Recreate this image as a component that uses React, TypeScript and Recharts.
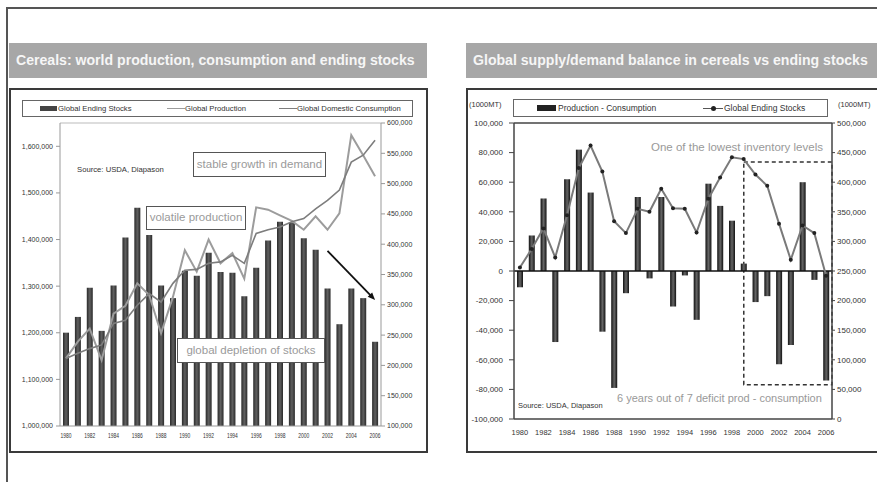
import {
  ComposedChart,
  Bar,
  Line,
  XAxis,
  YAxis,
  ReferenceLine,
  ReferenceArea,
} from 'recharts'

const years = [
  '1980', '1981', '1982', '1983', '1984', '1985', '1986', '1987', '1988', '1989',
  '1990', '1991', '1992', '1993', '1994', '1995', '1996', '1997', '1998', '1999',
  '2000', '2001', '2002', '2003', '2004', '2005', '2006',
]

// left chart (1000 MT)
const endingStocks = [
  254000, 280000, 328000, 257000, 332000, 411000, 460000, 415000, 332000, 311000,
  356000, 348000, 386000, 354000, 353000, 314000, 361000, 406000, 437000, 436000,
  410000, 391000, 327000, 268000, 327000, 311000, 239000,
]
const production = [
  1145000, 1181000, 1209000, 1141000, 1241000, 1258000, 1306000, 1281000, 1199000, 1277000,
  1377000, 1331000, 1400000, 1349000, 1371000, 1316000, 1469000, 1464000, 1452000, 1440000,
  1421000, 1450000, 1421000, 1456000, 1624000, 1581000, 1536000,
]
const consumption = [
  1145000, 1156000, 1166000, 1174000, 1220000, 1227000, 1259000, 1284000, 1266000, 1306000,
  1334000, 1336000, 1349000, 1352000, 1366000, 1349000, 1413000, 1421000, 1427000, 1438000,
  1445000, 1466000, 1484000, 1506000, 1566000, 1581000, 1613000,
]
const leftTicks = [1000000, 1100000, 1200000, 1300000, 1400000, 1500000, 1600000]
const rightTicks = [100000, 150000, 200000, 250000, 300000, 350000, 400000, 450000, 500000, 550000, 600000]

// right chart (1000 MT)
const balance = [
  -11000, 24000, 49000, -48000, 62000, 82000, 53000, -41000, -79000, -15000,
  50000, -5000, 50000, -24000, -3000, -33000, 59000, 44000, 34000, 5000,
  -21000, -17000, -63000, -50000, 60000, -6000, -74000,
]
const stocksLine = [
  256000, 287000, 322000, 273000, 344000, 424000, 462000, 418000, 334000, 314000,
  355000, 350000, 389000, 356000, 355000, 315000, 372000, 408000, 442000, 439000,
  413000, 394000, 330000, 269000, 327000, 314000, 242000,
]
const balanceTicks = [-100000, -80000, -60000, -40000, -20000, 0, 20000, 40000, 60000, 80000, 100000]
const stockTicks = [0, 50000, 100000, 150000, 200000, 250000, 300000, 350000, 400000, 450000, 500000]

const leftData = years.map((year, i) => ({
  year,
  stocks: endingStocks[i],
  production: production[i],
  consumption: consumption[i],
}))
const rightData = years.map((year, i) => ({ year, balance: balance[i], stocks: stocksLine[i] }))

const fmt = (v: number) => v.toLocaleString('en-US')

const FONT = "'Liberation Sans', Arial, sans-serif"

function NarrowYearTick(props: any) {
  const { x, y, payload } = props
  return (
    <text
      x={x}
      y={y + 4}
      textAnchor="middle"
      fontSize={6.5}
      fill="#333"
      textLength={11}
      lengthAdjust="spacingAndGlyphs"
    >
      {payload.value}
    </text>
  )
}

function ArrowShape(props: any) {
  const { x1, y1, x2, y2 } = props
  const ang = Math.atan2(y2 - y1, x2 - x1)
  const len = 8
  const a = [x2 - len * Math.cos(ang - 0.4), y2 - len * Math.sin(ang - 0.4)]
  const b = [x2 - len * Math.cos(ang + 0.4), y2 - len * Math.sin(ang + 0.4)]
  return (
    <g>
      <line x1={x1} y1={y1} x2={x2 - 4 * Math.cos(ang)} y2={y2 - 4 * Math.sin(ang)} stroke="#111" strokeWidth={1.8} />
      <polygon points={`${x2},${y2} ${a[0]},${a[1]} ${b[0]},${b[1]}`} fill="#111" />
    </g>
  )
}

function DashedBox(props: any) {
  const { x, y, width, height } = props
  // start the box at the middle of the 1999 band
  const shift = 6
  return (
    <rect
      x={x + shift}
      y={y}
      width={width - shift}
      height={height}
      fill="none"
      stroke="#333"
      strokeWidth={1.5}
      strokeDasharray="4 3"
    />
  )
}

const abs = (left: number, top: number, extra: React.CSSProperties = {}): React.CSSProperties => ({
  position: 'absolute',
  left,
  top,
  ...extra,
})

const titleStyle: React.CSSProperties = {
  background: '#a7a7a7',
  color: '#f6f6f6',
  fontWeight: 'bold',
  fontSize: 14.1,
  lineHeight: '35px',
  height: 35,
  paddingLeft: 7,
  boxSizing: 'border-box',
  whiteSpace: 'nowrap',
  overflow: 'hidden',
}

const noteBox: React.CSSProperties = {
  border: '1.5px solid #555',
  background: '#fff',
  color: '#9a9a9a',
  fontSize: 11.5,
  boxSizing: 'border-box',
  textAlign: 'center',
  whiteSpace: 'nowrap',
}

const small = (size: number, color = '#333'): React.CSSProperties => ({
  fontSize: size,
  color,
  whiteSpace: 'nowrap',
})

export default function App() {
  return (
    <div
      style={{
        position: 'absolute',
        left: 0,
        top: 0,
        width: 877,
        height: 482,
        overflow: 'hidden',
        background: '#fff',
        fontFamily: FONT,
      }}
    >
      {/* outer frame */}
      <div style={abs(6, 7, { width: 900, height: 500, borderTop: '2px solid #555', borderLeft: '2px solid #555' })} />

      {/* titles */}
      <div style={abs(9, 43, { ...titleStyle, width: 418 })}>
        Cereals: world production, consumption and ending stocks
      </div>
      <div style={abs(466, 43, { ...titleStyle, width: 411 })}>
        Global supply/demand balance in cereals vs ending stocks
      </div>

      {/* left chart */}
      <div style={abs(9, 88, { width: 419, height: 365, border: '2px solid #3a3a3a', boxSizing: 'border-box' })}>
        <ComposedChart width={415} height={361} data={leftData} margin={{ top: 33, right: 0, bottom: 0, left: 0 }}>
          <defs>
            <linearGradient id="stockBar" x1="0" y1="0" x2="1" y2="0">
              <stop offset="0%" stopColor="#2a2a2a" />
              <stop offset="50%" stopColor="#606060" />
              <stop offset="100%" stopColor="#2a2a2a" />
            </linearGradient>
          </defs>
          <XAxis
            dataKey="year"
            interval={1}
            height={25}
            tickLine={false}
            axisLine={{ stroke: '#999' }}
            tick={<NarrowYearTick />}
          />
          <YAxis
            yAxisId="left"
            domain={[1000000, 1650000]}
            ticks={leftTicks}
            width={49}
            tickSize={4}
            tickMargin={3}
            tickFormatter={fmt}
            tick={{ fontSize: 7, fill: '#333' }}
            axisLine={{ stroke: '#999' }}
            tickLine={{ stroke: '#999' }}
          />
          <YAxis
            yAxisId="right"
            orientation="right"
            domain={[100000, 600000]}
            ticks={rightTicks}
            width={45}
            tickSize={4}
            tickMargin={2}
            tickFormatter={fmt}
            tick={{ fontSize: 7, fill: '#333' }}
            axisLine={{ stroke: '#999' }}
            tickLine={{ stroke: '#999' }}
          />
          <ReferenceLine yAxisId="left" y={1650000} stroke="#bbb" />
          <Bar yAxisId="right" dataKey="stocks" barSize={6} fill="url(#stockBar)" isAnimationActive={false} />
          <Line
            yAxisId="left"
            dataKey="production"
            stroke="#9c9c9c"
            strokeWidth={2}
            dot={false}
            isAnimationActive={false}
          />
          <Line
            yAxisId="left"
            dataKey="consumption"
            stroke="#7d7d7d"
            strokeWidth={1.6}
            dot={false}
            isAnimationActive={false}
          />
          <ReferenceLine
            yAxisId="right"
            segment={[
              { x: '2002', y: 389000 },
              { x: '2006', y: 308000 },
            ]}
            shape={ArrowShape}
          />
        </ComposedChart>
      </div>

      {/* left legend */}
      <div style={abs(22, 100, { width: 391, height: 17, border: '1px solid #666', boxSizing: 'border-box', background: '#fff' })} />
      <div style={abs(40, 105.5, { width: 17, height: 5, background: '#444' })} />
      <div style={abs(58, 101, { ...small(7.7), lineHeight: '15px' })}>Global Ending Stocks</div>
      <div style={abs(167, 107.5, { width: 18, height: 1.5, background: '#9c9c9c' })} />
      <div style={abs(185, 101, { ...small(7.7), lineHeight: '15px' })}>Global Production</div>
      <div style={abs(279, 107.5, { width: 18, height: 1.5, background: '#7d7d7d' })} />
      <div style={abs(297, 101, { ...small(7.7), lineHeight: '15px' })}>Global Domestic Consumption</div>

      {/* left notes */}
      <div style={abs(77, 164, { ...small(7.7), lineHeight: '12px' })}>Source: USDA, Diapason</div>
      <div style={abs(193, 152, { ...noteBox, width: 133, height: 25, lineHeight: '22px' })}>stable growth in demand</div>
      <div style={abs(146, 206, { ...noteBox, width: 100, height: 24, lineHeight: '21px' })}>volatile production</div>
      <div style={abs(177, 338, { ...noteBox, width: 148, height: 25, lineHeight: '22px' })}>global depletion of stocks</div>

      {/* right chart */}
      <div style={abs(466, 88, { width: 420, height: 365, border: '2px solid #3a3a3a', boxSizing: 'border-box' })}>
        <ComposedChart width={409} height={361} data={rightData} margin={{ top: 33, right: 0, bottom: 0, left: 0 }}>
          <defs>
            <linearGradient id="balBar" x1="0" y1="0" x2="1" y2="0">
              <stop offset="0%" stopColor="#111" />
              <stop offset="50%" stopColor="#666" />
              <stop offset="100%" stopColor="#111" />
            </linearGradient>
          </defs>
          <XAxis
            dataKey="year"
            interval={1}
            height={32}
            tickLine={false}
            tickSize={6}
            tickMargin={5}
            axisLine={{ stroke: '#444', strokeWidth: 1.5 }}
            tick={{ fontSize: 7.5, fill: '#333' }}
          />
          <YAxis
            yAxisId="left"
            domain={[-100000, 100000]}
            ticks={balanceTicks}
            width={46}
            tickSize={5}
            tickMargin={6}
            tickFormatter={fmt}
            tick={{ fontSize: 8, fill: '#333' }}
            axisLine={{ stroke: '#444', strokeWidth: 1.5 }}
            tickLine={{ stroke: '#444' }}
          />
          <YAxis
            yAxisId="right"
            orientation="right"
            domain={[0, 500000]}
            ticks={stockTicks}
            width={45}
            tickSize={3}
            tickMargin={2}
            tickFormatter={fmt}
            tick={{ fontSize: 8, fill: '#333' }}
            axisLine={{ stroke: '#444', strokeWidth: 1.5 }}
            tickLine={{ stroke: '#444' }}
          />
          <ReferenceLine yAxisId="left" y={100000} stroke="#444" strokeWidth={1.5} />
          <Bar yAxisId="left" dataKey="balance" barSize={6} fill="url(#balBar)" isAnimationActive={false} />
          <ReferenceLine yAxisId="left" y={0} stroke="#111" strokeWidth={1.5} />
          <Line
            yAxisId="right"
            dataKey="stocks"
            stroke="#7a7a7a"
            strokeWidth={2}
            dot={{ r: 2, fill: '#222', stroke: '#222', strokeWidth: 0 }}
            isAnimationActive={false}
          />
          <ReferenceArea yAxisId="right" x1="1999" y1={58000} y2={434000} shape={DashedBox} />
        </ComposedChart>
      </div>

      {/* right legend */}
      <div style={abs(513, 99, { width: 315, height: 18, border: '1px solid #666', boxSizing: 'border-box', background: '#fff' })} />
      <div style={abs(537, 105, { width: 19, height: 6, background: '#222' })} />
      <div style={abs(558, 101, { ...small(8.5), lineHeight: '14px' })}>Production - Consumption</div>
      <div style={abs(703, 107.5, { width: 20, height: 1.5, background: '#555' })} />
      <div style={abs(710.5, 105.5, { width: 5, height: 5, borderRadius: 3, background: '#222' })} />
      <div style={abs(724, 101, { ...small(8.5), lineHeight: '14px' })}>Global Ending Stocks</div>

      {/* right notes */}
      <div style={abs(469, 99, { ...small(7.5), lineHeight: '12px' })}>(1000MT)</div>
      <div style={abs(838, 99, { ...small(7.5), lineHeight: '12px' })}>(1000MT)</div>
      <div style={abs(651, 140, { ...small(11.5, '#999'), lineHeight: '14px' })}>One of the lowest inventory levels</div>
      <div style={abs(617, 391, { ...small(11, '#999'), lineHeight: '14px' })}>
        6 years out of 7 deficit prod - consumption
      </div>
      <div style={abs(518, 400, { ...small(7.5), lineHeight: '12px' })}>Source: USDA, Diapason</div>
    </div>
  )
}
